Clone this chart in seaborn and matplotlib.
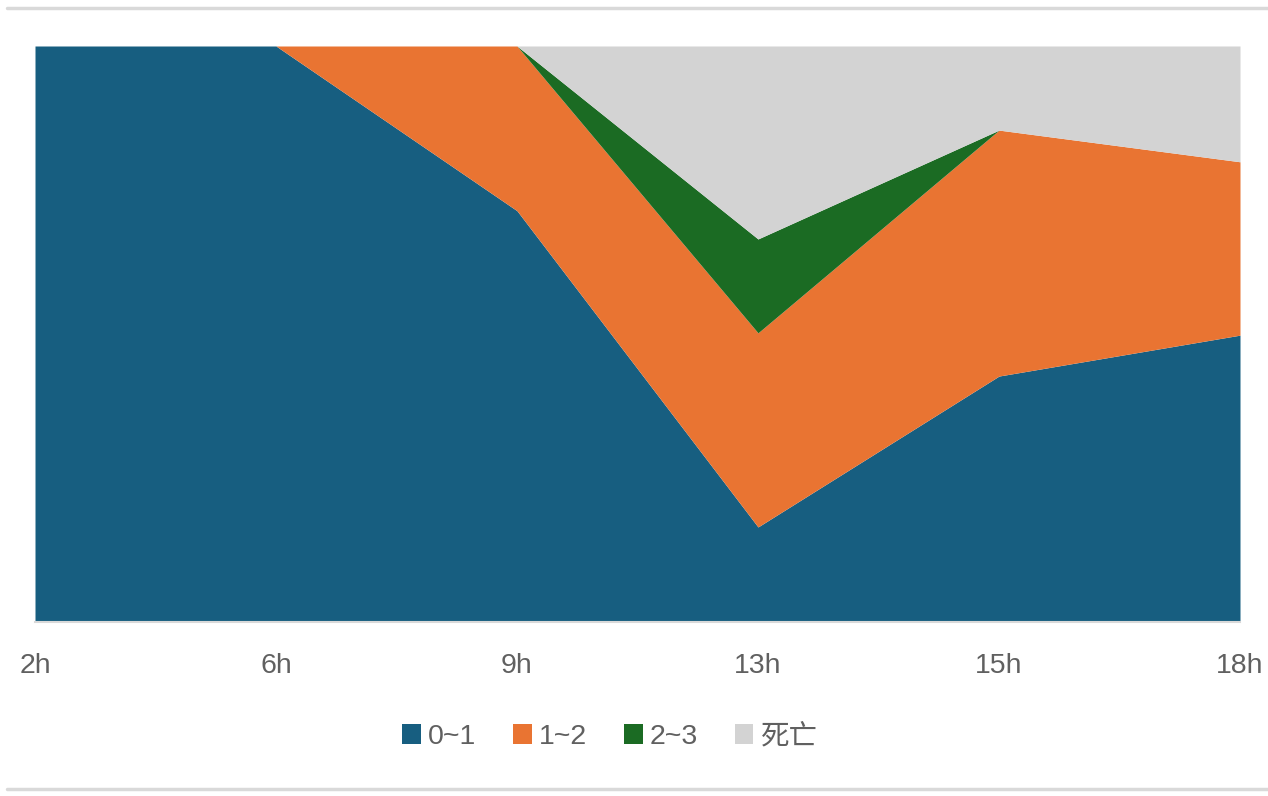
import matplotlib
matplotlib.use("Agg")
import matplotlib.pyplot as plt
from matplotlib.lines import Line2D
from matplotlib.patches import Patch
import seaborn as sns
import numpy as np

# time points and share (%) of each score group
times = ["2h", "6h", "9h", "13h", "15h", "18h"]
grade_0_1 = [100.0, 100.0, 71.4, 16.5, 42.7, 49.8]
grade_1_2 = [0.0, 0.0, 28.6, 33.7, 42.7, 30.1]
grade_2_3 = [0.0, 0.0, 0.0, 16.3, 0.0, 0.0]
death = [0.0, 0.0, 0.0, 33.5, 14.6, 20.1]
series_names = ["0~1", "1~2", "2~3", "死亡"]

colors = ["#175E80", "#E97432", "#1B6B23", "#D3D3D3"]

sns.set_theme(style="white")
plt.rcParams["font.family"] = ["Liberation Sans", "Noto Sans CJK SC", "DejaVu Sans"]

fig = plt.figure(figsize=(12.68, 7.96), dpi=100)
ax = fig.add_axes([35 / 1268, 1 - 622 / 796, (1240 - 35) / 1268, (622 - 46) / 796])

x = np.arange(len(times))
ax.stackplot(x, grade_0_1, grade_1_2, grade_2_3, death, colors=colors,
             labels=series_names, linewidth=0, antialiased=True)

ax.set_xlim(0, len(times) - 1)
ax.set_ylim(0, 100)
ax.set_xticks(x)
ax.set_xticklabels(times, fontsize=20.5, color="#606060")
ax.set_yticks([])
ax.tick_params(axis="x", length=0, pad=22)
for side in ["top", "left", "right"]:
    ax.spines[side].set_visible(False)
ax.spines["bottom"].set_color("#D9D9D9")
ax.spines["bottom"].set_linewidth(1.5)

handles = [Patch(facecolor=c, edgecolor="none") for c in colors]
fig.legend(handles, series_names, loc="center", bbox_to_anchor=(610 / 1268, 1 - 737 / 796),
           ncol=4, frameon=False, fontsize=20.5, handlelength=0.65, handleheight=0.65,
           handletextpad=0.25, columnspacing=1.3, labelcolor="#606060")

# thin rules framing the chart
fig.add_artist(Line2D([7 / 1268, 1], [1 - 8 / 796, 1 - 8 / 796], color="#D9D9D9", linewidth=2.5))
fig.add_artist(Line2D([7 / 1268, 1], [1 - 789 / 796, 1 - 789 / 796], color="#D9D9D9", linewidth=2.5))

fig.savefig("out.png", dpi=100, facecolor="white")
